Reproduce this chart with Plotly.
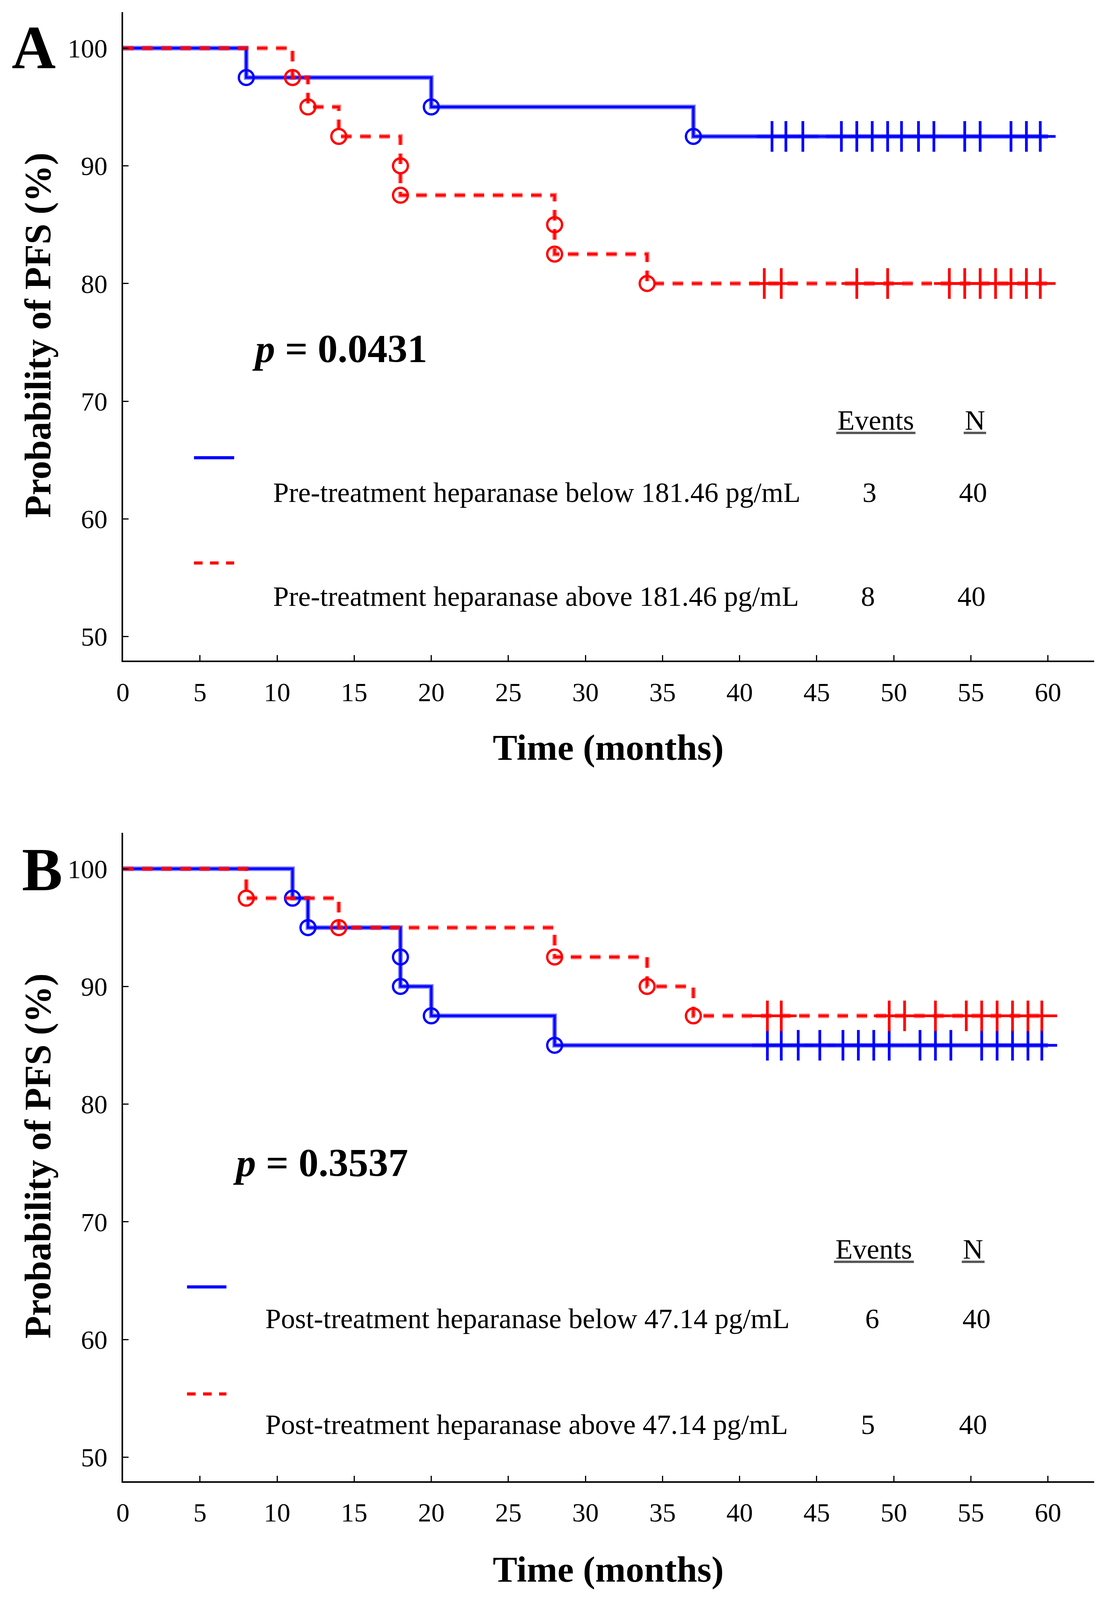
import plotly.graph_objects as go

# reference canvas, used only to turn pixel positions into paper fractions
W, H = 2820, 4509
FONT = "Liberation Serif"

# ---- data (months, % PFS) ----
follow_up_end = 60

# panel A: pre-treatment heparanase
a_low_events = [8, 20, 37]
a_low_surv = [97.5, 95.0, 92.5]
a_low_cens = [42.1, 43.0, 44.1, 46.6, 47.6, 48.6, 49.6, 50.5, 51.6, 52.6, 54.6, 55.6, 57.6, 58.6, 59.5]
a_high_events = [11, 12, 14, 18, 18, 28, 28, 34]
a_high_surv = [97.5, 95.0, 92.5, 90.0, 87.5, 85.0, 82.5, 80.0]
a_high_cens = [41.6, 42.7, 47.6, 49.6, 53.6, 54.6, 55.6, 56.6, 57.6, 58.6, 59.5]

# panel B: post-treatment heparanase
b_low_events = [11, 12, 18, 18, 20, 28]
b_low_surv = [97.5, 95.0, 92.5, 90.0, 87.5, 85.0]
b_low_cens = [41.8, 42.7, 43.8, 45.2, 46.7, 47.7, 48.7, 49.7, 51.7, 52.7, 53.7, 55.7, 56.7, 57.7, 58.7, 59.6]
b_high_events = [8, 14, 28, 34, 37]
b_high_surv = [97.5, 95.0, 92.5, 90.0, 87.5]
b_high_cens = [41.8, 42.7, 49.7, 50.7, 52.7, 54.7, 55.7, 56.7, 57.7, 58.7, 59.6]

x_ticks = [0, 5, 10, 15, 20, 25, 30, 35, 40, 45, 50, 55, 60]
y_ticks = [50, 60, 70, 80, 90, 100]

a_labels = ["Pre-treatment heparanase below 181.46 pg/mL", "Pre-treatment heparanase above 181.46 pg/mL"]
a_counts = [(3, 40), (8, 40)]
a_p = "0.0431"
b_labels = ["Post-treatment heparanase below 47.14 pg/mL", "Post-treatment heparanase above 47.14 pg/mL"]
b_counts = [(6, 40), (5, 40)]
b_p = "0.3537"

BLUE = "#0000ff"
RED = "#ff0000"
FADED = {BLUE: "rgba(0,0,255,0.5)", RED: "rgba(255,0,0,0.5)"}
DASH = "27px,22px"


def px(x):
    return x / W


def py(y):
    return 1 - y / H


def level_at(t, events, surv):
    s = 100.0
    for e, v in zip(events, surv):
        if e <= t:
            s = v
    return s


def km_traces(events, surv, cens, color, dash, xa, ya):
    xs = [0] + events + [follow_up_end]
    ys = [100] + surv + [surv[-1]]
    return [
        go.Scatter(x=xs, y=ys, mode="lines", line=dict(color=FADED[color], width=12, dash=dash, shape="hv"),
                   xaxis=xa, yaxis=ya, hoverinfo="skip"),
        go.Scatter(x=xs, y=ys, mode="lines", line=dict(color=color, width=6, dash=dash, shape="hv"),
                   xaxis=xa, yaxis=ya),
        go.Scatter(x=events, y=surv, mode="markers",
                   marker=dict(symbol="circle-open", size=38, color=color, line=dict(width=6, color=color)),
                   xaxis=xa, yaxis=ya),
        go.Scatter(x=cens, y=[level_at(t, events, surv) for t in cens], mode="markers",
                   marker=dict(symbol="cross-thin", size=56, color=color, line=dict(width=7, color=color)),
                   xaxis=xa, yaxis=ya),
    ]


fig = go.Figure()
for tr in km_traces(a_low_events, a_low_surv, a_low_cens, BLUE, "solid", "x", "y"):
    fig.add_trace(tr)
for tr in km_traces(a_high_events, a_high_surv, a_high_cens, RED, DASH, "x", "y"):
    fig.add_trace(tr)
for tr in km_traces(b_low_events, b_low_surv, b_low_cens, BLUE, "solid", "x2", "y2"):
    fig.add_trace(tr)
for tr in km_traces(b_high_events, b_high_surv, b_high_cens, RED, DASH, "x2", "y2"):
    fig.add_trace(tr)

xdom = [px(293), px(2808)]
dom_a = [py(1860), py(25.8)]
dom_b = [py(4181.6), py(2347.5)]

axis_common = dict(showgrid=False, zeroline=False, showline=True, linecolor="black", linewidth=4,
                   ticks="inside", ticklen=14, tickwidth=3, tickcolor="black",
                   tickfont=dict(family=FONT, size=68, color="black"))

# no fixed size: the figure fills the browser window
fig.update_layout(
    paper_bgcolor="white", plot_bgcolor="white",
    margin=dict(l=0, r=0, t=0, b=0), showlegend=False,
    xaxis=dict(domain=xdom, anchor="y", range=[0, 63], tickvals=x_ticks, ticklabelstandoff=18, **axis_common),
    yaxis=dict(domain=dom_a, anchor="x", range=[47.96, 103.05], tickvals=y_ticks, ticklabelstandoff=22, **axis_common),
    xaxis2=dict(domain=xdom, anchor="y2", range=[0, 63], tickvals=x_ticks, ticklabelstandoff=18, **axis_common),
    yaxis2=dict(domain=dom_b, anchor="x2", range=[47.96, 103.05], tickvals=y_ticks, ticklabelstandoff=22, **axis_common),
)


def ann(text, x, y, size, bold=False, xanchor="center", angle=0):
    fig.add_annotation(
        text=text, x=px(x), y=py(y), xref="paper", yref="paper", showarrow=False,
        xanchor=xanchor, yanchor="middle", textangle=angle,
        font=dict(family=FONT, size=size, color="black", weight="bold" if bold else "normal"),
    )


def hline(x0, x1, y, color, width, dash="solid"):
    fig.add_shape(type="line", xref="paper", yref="paper", x0=px(x0), x1=px(x1), y0=py(y), y1=py(y),
                  line=dict(color=color, width=width, dash=dash))


# panel letters
ann("A", 62, 125, 156, bold=True)
ann("B", 84, 2452, 156, bold=True)

# axis titles
for yc in [940, 3262]:
    ann("Probability of PFS (%)", 72, yc, 95, bold=True, angle=-90)
ann("Time (months)", 1550, 2105, 94, bold=True)
ann("Time (months)", 1550, 4430, 94, bold=True)

# p values
ann("<i>p</i> = " + a_p, 855, 978, 102, bold=True)
ann("<i>p</i> = " + b_p, 805, 3281, 102, bold=True)

# legend blocks
legend_rows = [
    dict(labels=a_labels, counts=a_counts, head_y=1180, sample_y=[1286, 1584], row_y=[1385, 1679],
         sample_x=[477, 581], text_x=680, ev_x=[2226, 2222], n_x=[2494, 2490],
         ev_head=[2140, 2345], n_head=[2470, 2528]),
    dict(labels=b_labels, counts=b_counts, head_y=3525, sample_y=[3632, 3935], row_y=[3722, 4022],
         sample_x=[459, 561], text_x=660, ev_x=[2233, 2222], n_x=[2503, 2494],
         ev_head=[2134, 2341], n_head=[2465, 2524]),
]
for blk in legend_rows:
    ann("Events", sum(blk["ev_head"]) / 2, blk["head_y"], 72)
    ann("N", sum(blk["n_head"]) / 2, blk["head_y"], 72)
    hline(blk["ev_head"][0], blk["ev_head"][1], blk["head_y"] + 36, "#555555", 6)
    hline(blk["n_head"][0], blk["n_head"][1], blk["head_y"] + 36, "#555555", 6)
    for i in range(2):
        ann(blk["labels"][i], blk["text_x"], blk["row_y"][i], 72, xanchor="left")
        ann(str(blk["counts"][i][0]), blk["ev_x"][i], blk["row_y"][i], 72)
        ann(str(blk["counts"][i][1]), blk["n_x"][i], blk["row_y"][i], 72)
    hline(blk["sample_x"][0], blk["sample_x"][1], blk["sample_y"][0], BLUE, 8)
    hline(blk["sample_x"][0], blk["sample_x"][1], blk["sample_y"][1], RED, 8, "22px,19px")

fig.write_html("out.html", default_width="100%", default_height="calc(100vh - 16px)")
